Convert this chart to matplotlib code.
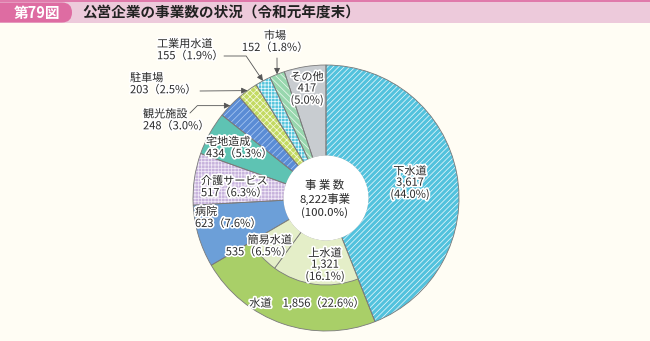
import numpy as np
import matplotlib

matplotlib.use("Agg")
import matplotlib.pyplot as plt  # noqa: E402
import matplotlib.patheffects as pe  # noqa: E402
from matplotlib.patches import Circle, Rectangle, FancyBboxPatch  # noqa: E402

plt.rcParams["font.family"] = ["Noto Sans CJK JP", "DejaVu Sans"]
plt.rcParams["hatch.linewidth"] = 0.55

# data (FY2019 year-end, number of public enterprise businesses)
categories = ["下水道", "水道", "病院", "介護サービス", "宅地造成",
              "観光施設", "駐車場", "工業用水道", "市場", "その他"]
counts = [3617, 1856, 623, 517, 434, 248, 203, 155, 152, 417]
shares = [44.0, 22.6, 7.6, 6.3, 5.3, 3.0, 2.5, 1.9, 1.8, 5.0]
water_parts = ["上水道", "簡易水道"]
water_counts = [1321, 535]
water_shares = [16.1, 6.5]
total_label = "事 業 数"
total_count = 8222
total_share = 100.0

# styles
BG = "#fffdf4"
EDGE = "#7a7a7a"
TXT = "#2a2a2a"
fills = ["#52c2dd", "#a9cf68", "#6c9fd8", "#c7b2dc", "#5ec3b3",
         "#5a8cd5", "#c3da62", "#55c5dc", "#98d7ae", "#c8ccd0"]
hatches = ["//////", None, None, "+++++", None,
           "/////", "xxxxx", "+++++", "\\" * 5, None]
hatch_cols = ["#e4f6fb", None, None, "#f1eaf7", None,
              "#a9c8f2", "#f4f8dc", "#e6f8fb", "#e8f7ec", None]
INNER_FILL = "#e4eec8"

W, H = 650, 341
CX, CY = 326, 198
R_OUT, R_MID, R_IN = 133, 87, 42


def P(x, y):
    """pixel position (y down) -> data position"""
    return (x, H - y)


fig = plt.figure(figsize=(6.5, 3.41), dpi=100, facecolor=BG)
ax = fig.add_axes([0, 0, 1, 1])

# outer ring: fill + hatch, then outlines on top
pie_kw = dict(radius=R_OUT, center=P(CX, CY), startangle=90, counterclock=False)
wedges, _ = ax.pie(counts, colors=fills,
                   wedgeprops=dict(width=R_OUT - R_IN, linewidth=0), **pie_kw)
for w, h, hc in zip(wedges, hatches, hatch_cols):
    if h:
        w.set_edgecolor(hc)
        w.set_hatch(h)
        w.set_linewidth(0)
ax.pie(counts, wedgeprops=dict(width=R_OUT - R_IN, fill=False,
                               edgecolor=EDGE, linewidth=0.6), **pie_kw)

# inner ring: breakdown of 水道
inner_vals = [counts[0]] + water_counts + [total_count - counts[0] - counts[1]]
inner, _ = ax.pie(inner_vals, radius=R_MID, center=P(CX, CY), startangle=90,
                  counterclock=False, colors=[BG, INNER_FILL, INNER_FILL, BG],
                  wedgeprops=dict(width=R_MID - R_IN, edgecolor=EDGE, linewidth=0.6))
inner[0].set_visible(False)
inner[-1].set_visible(False)

ax.add_patch(Circle(P(CX, CY), R_IN + 0.5, facecolor="white", edgecolor="none", zorder=3))

halo = [pe.withStroke(linewidth=2.4, foreground="white")]


def label(x, y, s, ha="center", size=8):
    ax.text(*P(x, y), s, ha=ha, va="center", fontsize=size, color=TXT,
            linespacing=1.15, path_effects=halo, zorder=6)


def two_line(name, n, pct):
    return f"{name}\n{n:,}（{pct:.1f}%）"


def three_line(name, n, pct):
    return f"{name}\n{n:,}\n({pct:.1f}%)"


# labels inside the ring
label(410, 183, three_line(categories[0], counts[0], shares[0]))
label(307, 89, three_line(categories[9], counts[9], shares[9]))
label(206, 148, two_line(categories[4], counts[4], shares[4]), ha="left")
label(201, 187, two_line(categories[3], counts[3], shares[3]), ha="left")
label(195, 218, two_line(categories[2], counts[2], shares[2]), ha="left")
label(307, 303, f"{categories[1]}\u3000{counts[1]:,}（{shares[1]:.1f}%）")
label(325, 265, three_line(water_parts[0], water_counts[0], water_shares[0]))
label(292, 246, two_line(water_parts[1], water_counts[1], water_shares[1]), ha="right")

# labels outside with leader lines
label(143, 120, two_line(categories[5], counts[5], shares[5]), ha="left")
label(130, 84, two_line(categories[6], counts[6], shares[6]), ha="left")
label(157, 50, two_line(categories[7], counts[7], shares[7]), ha="left")
label(275, 42, f"{categories[8]}\n{counts[8]:,}（{shares[8]:.1f}%）")


def ring_point(idx):
    mid = (sum(counts[:idx]) + counts[idx] / 2) / sum(counts)
    ang = np.deg2rad(90 - 360 * mid)
    x0, y0 = P(CX, CY)
    return (x0 + R_OUT * np.cos(ang), y0 + R_OUT * np.sin(ang))


leaders = [
    (5, (190, 113), "angle,angleA=45,angleB=0,rad=0"),
    (6, (200, 91), "arc3"),
    (7, (224, 56), "angle,angleA=0,angleB=124,rad=0"),
    (8, (277, 58), "arc3"),
]
for idx, start, conn in leaders:
    ax.annotate("", xy=ring_point(idx), xytext=P(*start),
                arrowprops=dict(arrowstyle="-|>,head_length=0.45,head_width=0.22",
                                color="#555555", lw=0.6, shrinkA=0, shrinkB=0,
                                mutation_scale=8, connectionstyle=conn),
                zorder=5)

# centre
ax.text(*P(325, 199), f"{total_label}\n{total_count:,}事業\n({total_share:.1f}%)",
        ha="center", va="center", fontsize=8.2, color=TXT, linespacing=1.2, zorder=6)

# title band
ax.add_patch(Rectangle((0, H - 23), W, 23, facecolor="#edcadb", edgecolor="none", zorder=7))
ax.add_patch(Rectangle((0, H - 2), W, 2, facecolor="#e07aab", edgecolor="none", zorder=8))
ax.add_patch(FancyBboxPatch((-20, H - 22.5), 92, 20, boxstyle="round,pad=0,rounding_size=10",
                            facecolor="#de6ca2", edgecolor="none", zorder=8))
ax.text(*P(37, 13), "第79図", ha="center", va="center", fontsize=10.5,
        fontweight="bold", color="white", zorder=9)
ax.text(*P(82, 13), "公営企業の事業数の状況（令和元年度末）", ha="left", va="center",
        fontsize=10.5, fontweight="bold", color="#222222", zorder=9)

ax.set_xlim(0, W)
ax.set_ylim(0, H)
ax.set_aspect("equal")
ax.axis("off")

fig.savefig("out.png", dpi=100, facecolor=BG)
